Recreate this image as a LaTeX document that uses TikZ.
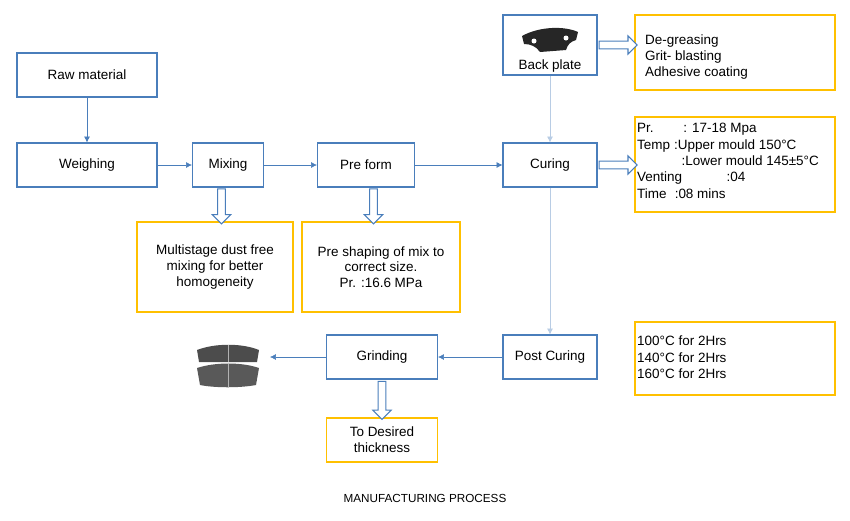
\documentclass[tikz,border=0pt]{standalone}
\usepackage{fontspec}
\setmainfont{Liberation Sans}
\usetikzlibrary{arrows.meta,shapes.arrows,positioning}
\definecolor{stepblue}{HTML}{4A7EBB}
\definecolor{noteyellow}{HTML}{FFC000}
\definecolor{faintblue}{HTML}{B8CCE4}
\tikzset{
    step/.style={draw=stepblue,line width=0.9pt,minimum width=#1*0.03cm,minimum height=1.32cm,align=center,font=\fontsize{11.5}{13.5}\selectfont},
    step/.default=94,
    note/.style={align=left,font=\fontsize{11.5}{14}\selectfont,anchor=north west,inner sep=0pt},
    flow/.style={draw=stepblue,-{Latex[length=5pt,width=5pt]},line width=0.5pt},
    hollow/.style={single arrow,draw=stepblue,line width=0.9pt,fill=white,single arrow head extend=0.16cm,inner sep=0.1cm,minimum height=#1*0.03cm},
}
\begin{document}
\begin{tikzpicture}[x=0.03cm,y=-0.03cm]
\useasboundingbox (0,0) rectangle (850,520);
% process steps
\node[step=140] (raw) at (87,75) {Raw material};
\node[step=140] (weigh) at (87,165) {Weighing};
\node[step=71] (mix) at (228,165) {Mixing};
\node[step=97] (pre) at (366,165) {Pre form};
\node[step] (cure) at (550,165) {Curing};
\node[step,minimum height=1.8cm] (back) at (550,45) {};
\node[step] (post) at (550,357) {Post Curing};
\node[step=111] (grind) at (382,357) {Grinding};
% notes
\draw[noteyellow,line width=1pt] (635,15) rectangle (835,90);
\node[note] (n1) at (645,34) {De-greasing\\Grit- blasting\\Adhesive coating};
\draw[noteyellow,line width=1pt] (635,117) rectangle (835,212);
\node[note] (n2) at (637,123) {Pr.\hspace{2.2em}: 17-18 Mpa\\Temp\hspace{0.3em}:Upper mould 150°C\\\hspace{3.3em}:Lower mould 145±5°C\\Venting\hspace{3.3em}:04\\Time\hspace{0.6em}:08 mins};
\node[draw=noteyellow,line width=1pt,minimum width=4.68cm,minimum height=2.7cm,align=center,font=\fontsize{11.5}{13.5}\selectfont] (n3) at (215,267) {Multistage dust free\\mixing for better\\homogeneity};
\node[draw=noteyellow,line width=1pt,minimum width=4.74cm,minimum height=2.7cm,align=center,font=\fontsize{11.5}{13.5}\selectfont] (n4) at (381,267) {Pre shaping of mix to\\correct size.\\Pr. :16.6 MPa};
\draw[noteyellow,line width=1pt] (635,322) rectangle (835,395);
\node[note] (n5) at (637,336) {100°C for 2Hrs\\140°C for 2Hrs\\160°C for 2Hrs};
\node[draw=noteyellow,line width=1pt,minimum width=3.33cm,minimum height=1.32cm,align=center,font=\fontsize{11.5}{13.5}\selectfont] (n6) at (382,440) {To Desired\\thickness};
% back plate picture
\node[font=\fontsize{11.5}{13.5}\selectfont] (backtxt) at (550,66) {Back plate};
\fill[black!85] (522,36) .. controls (540,26) and (565,26) .. (578,32) -- (576,40) .. controls (570,42) and (568,44) .. (566,50) -- (540,52) .. controls (536,46) and (530,44) .. (524,44) -- cycle;
\fill[white] (534,41) circle (2.5);
\fill[white] (566,38) circle (2.5);
% finished pads
\coordinate (pads) at (228,365);
\fill[black!70] (197,350) .. controls (215,343) and (242,343) .. (259,350) -- (257,362) -- (199,362) -- cycle;
\fill[black!65] (197,368) .. controls (215,362) and (242,362) .. (259,368) -- (256,385) .. controls (240,388) and (215,388) .. (200,385) -- cycle;
\draw[white!70!black,line width=0.4pt] (228,345) -- (228,362) (228,364) -- (228,387);
% connectors
\draw[flow] (raw) -- (weigh);
\draw[flow] (weigh) -- (mix);
\draw[flow] (mix) -- (pre);
\draw[flow] (pre) -- (cure);
\draw[flow,draw=faintblue] (back) -- (cure);
\draw[flow,draw=faintblue] (cure) -- (post);
\draw[flow] (post) -- (grind);
\draw[flow] (grind) -- (270,357);
% hollow arrows
\path (back.east) -- (635,45) node[midway,hollow=38] {};
\path (cure.east) -- (635,165) node[midway,hollow=38] {};
\path (mix.south) -- (n3.north) node[midway,hollow=35,rotate=-90] {};
\path (pre.south) -- (n4.north) node[midway,hollow=35,rotate=-90] {};
\path (grind.south) -- (n6.north) node[midway,hollow=38,rotate=-90] {};
\node[font=\fontsize{10}{12}\selectfont] (title) at (425,498) {MANUFACTURING PROCESS};
\end{tikzpicture}
\end{document}
